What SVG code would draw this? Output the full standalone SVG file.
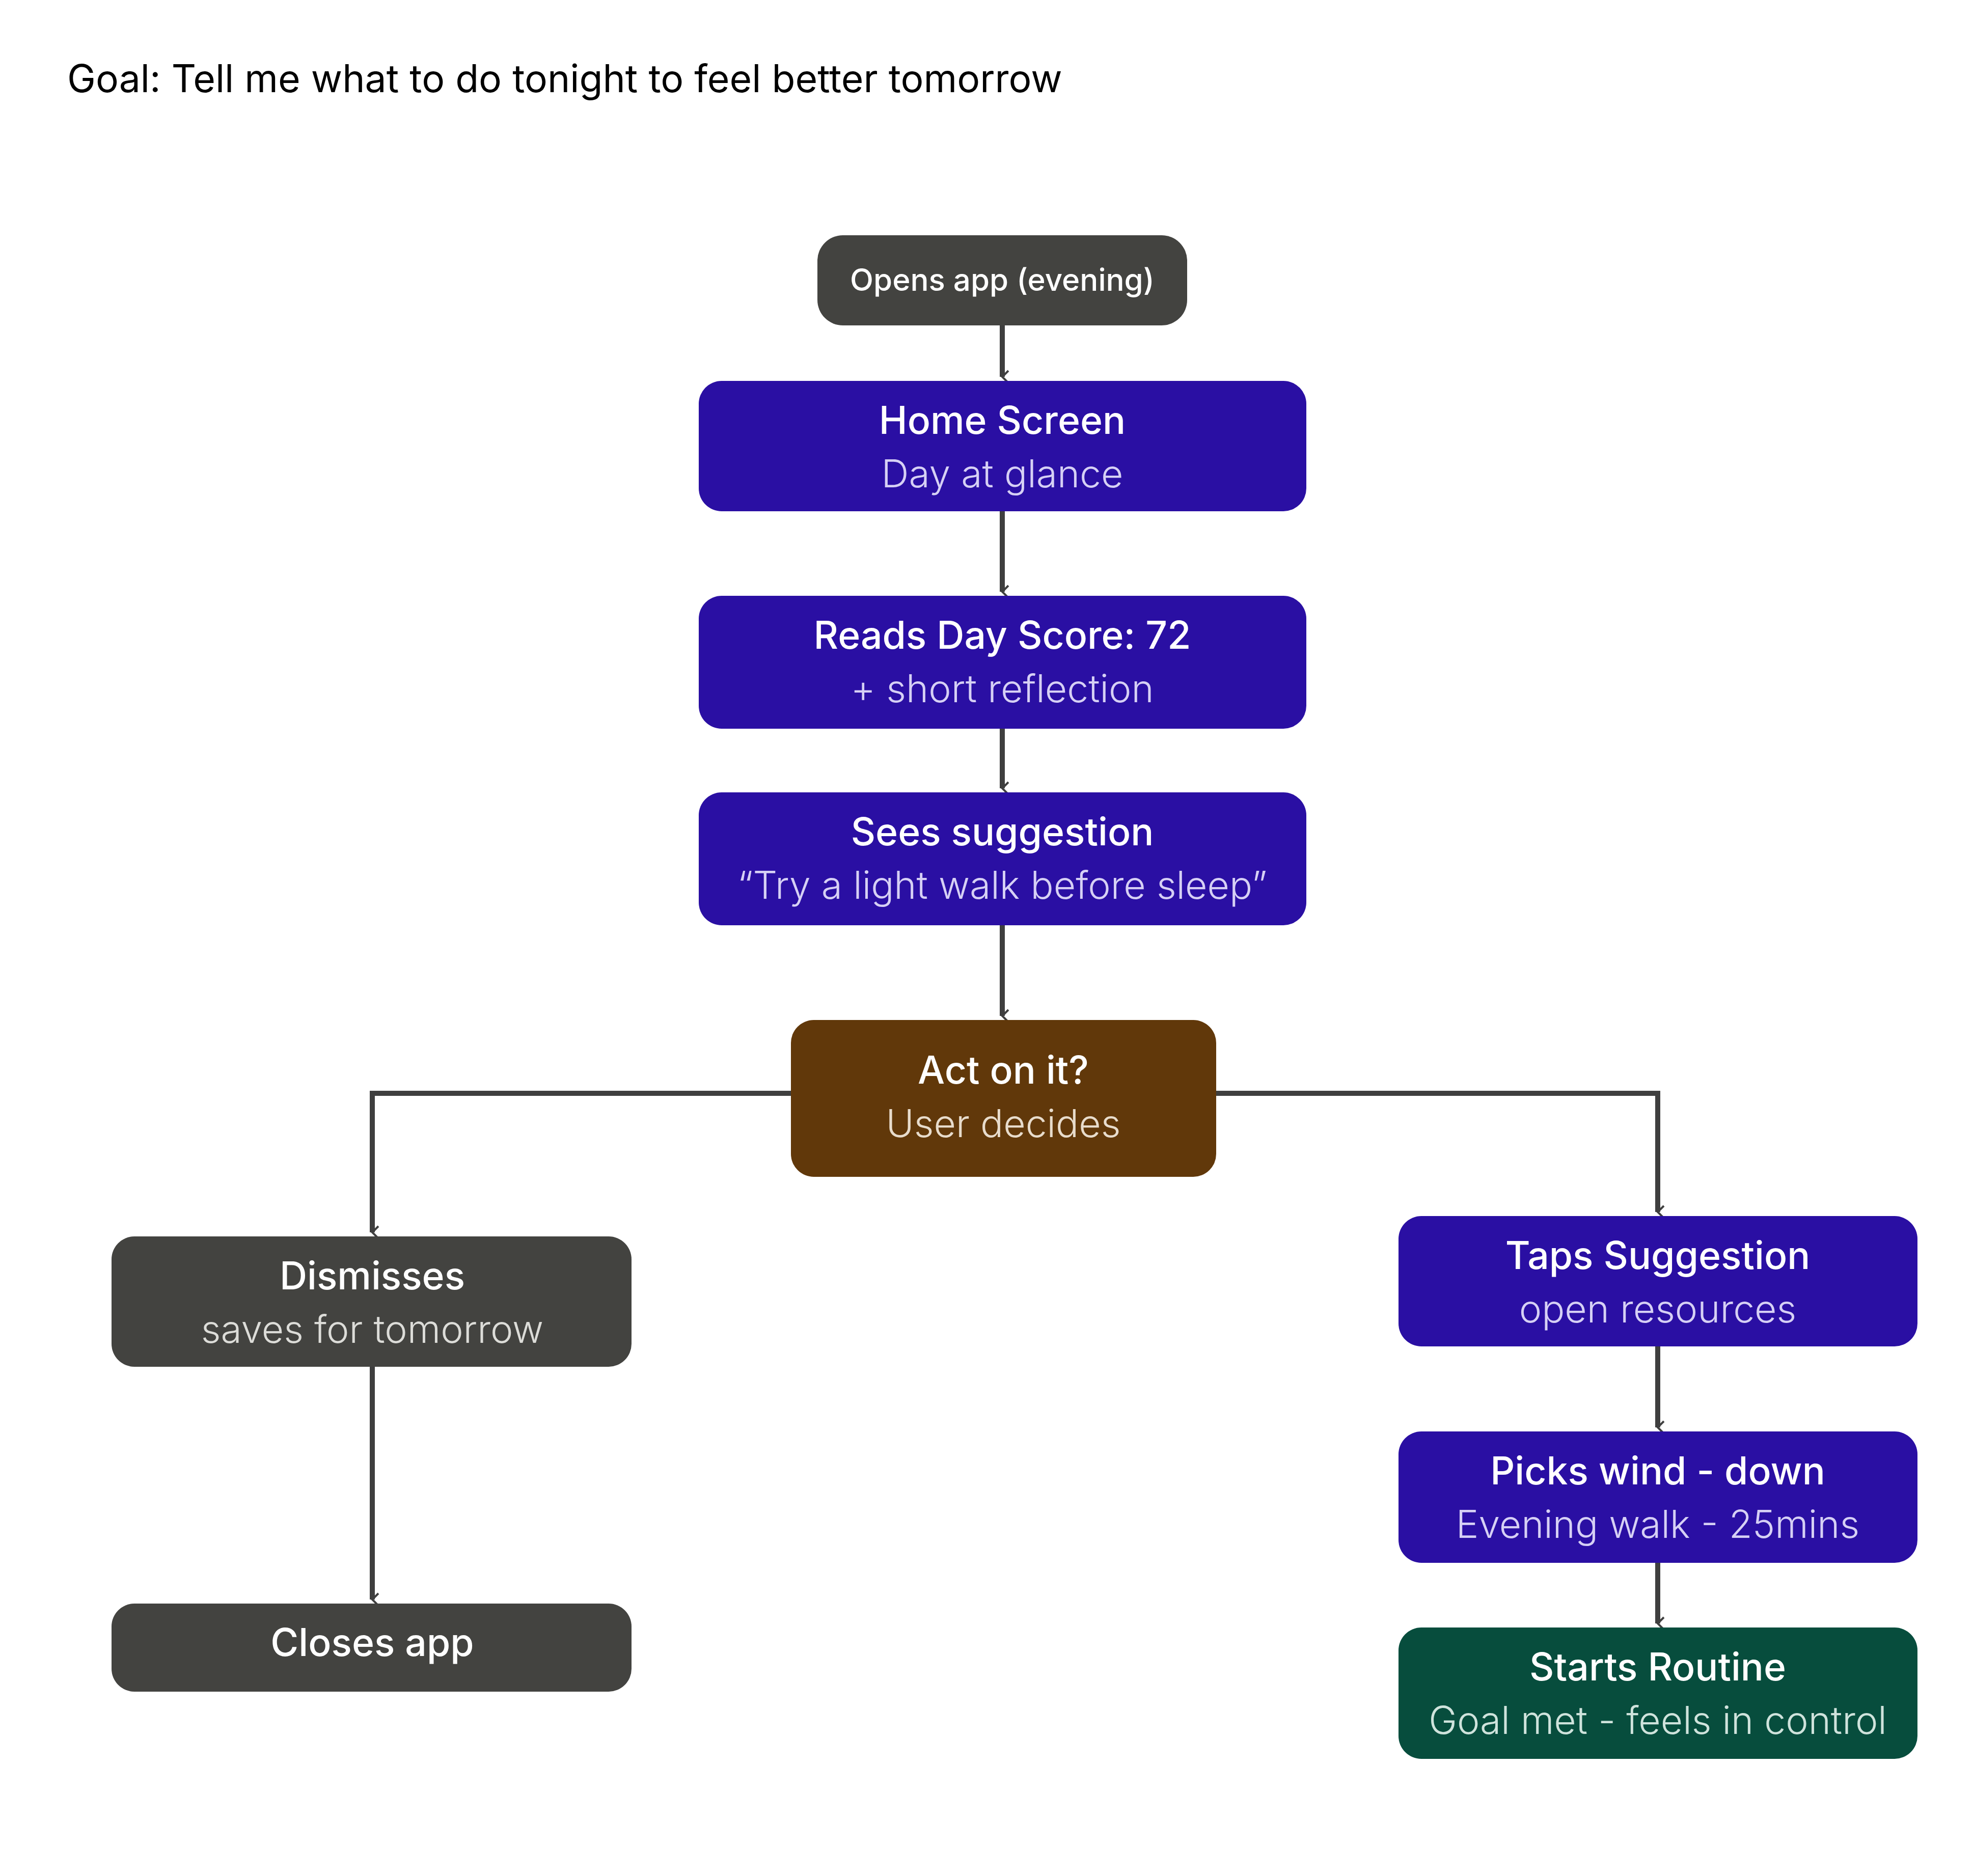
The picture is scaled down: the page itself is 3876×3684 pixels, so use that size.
<svg xmlns="http://www.w3.org/2000/svg" width="3876" height="3684" viewBox="0 0 3876 3684">
<style>
.t{font-family:Inter,"Liberation Sans",sans-serif;fill:#fff;font-size:75px;font-weight:500;text-anchor:middle}
.s{font-family:Inter,"Liberation Sans",sans-serif;fill:#d6d0f5;font-size:75px;font-weight:300;text-anchor:middle}
.c{fill:none;stroke:#3f3f3f;stroke-width:10}
</style>
<defs><marker id="a" viewBox="0 0 20 20" refX="10" refY="18" markerWidth="8" markerHeight="8" markerUnits="userSpaceOnUse" orient="auto-start-reverse" overflow="visible"><path d="M-30 -22 L0 8 L30 -22" fill="none" stroke="#3f3f3f" stroke-width="10" transform="translate(10,10)"/></marker></defs>
<rect width="3876" height="3684" fill="#fff"/>
<text x="132" y="181" font-family="Inter,'Liberation Sans',sans-serif" font-size="75" fill="#000">Goal: Tell me what to do tonight to feel better tomorrow</text>
<g id="connectors">
<path class="c" d="M1968 639V740" marker-end="url(#a)"/>
<path class="c" d="M1968 1004V1162" marker-end="url(#a)"/>
<path class="c" d="M1968 1431V1548" marker-end="url(#a)"/>
<path class="c" d="M1968 1817V1995" marker-end="url(#a)"/>
<path class="c" d="M1553 2147H731V2420" marker-end="url(#a)"/>
<path class="c" d="M2388 2147H3255V2380" marker-end="url(#a)"/>
<path class="c" d="M731 2684V3141" marker-end="url(#a)"/>
<path class="c" d="M3255 2644V2803" marker-end="url(#a)"/>
<path class="c" d="M3255 3069V3188" marker-end="url(#a)"/>
</g>
<g id="opens"><rect x="1605" y="462" width="726" height="177" rx="50" fill="#434340"/><text class="t" x="1968" y="571" font-size="60" style="font-size:60px">Opens app (evening)</text></g>
<g id="home"><rect x="1372" y="748" width="1193" height="256" rx="45" fill="#2a0fa3"/><text class="t" x="1968" y="852">Home Screen</text><text class="s" x="1968" y="957">Day at glance</text></g>
<g id="reads"><rect x="1372" y="1170" width="1193" height="261" rx="45" fill="#2a0fa3"/><text class="t" x="1968" y="1274">Reads Day Score: 72</text><text class="s" x="1968" y="1379">+ short reflection</text></g>
<g id="sees"><rect x="1372" y="1556" width="1193" height="261" rx="45" fill="#2a0fa3"/><text class="t" x="1968" y="1660">Sees suggestion</text><text class="s" x="1968" y="1765">“Try a light walk before sleep”</text></g>
<g id="act"><rect x="1553" y="2003" width="835" height="308" rx="45" fill="#61380a"/><text class="t" x="1970" y="2128">Act on it?</text><text class="s" x="1970" y="2233" style="fill:#e8dccc">User decides</text></g>
<g id="dismiss"><rect x="219" y="2428" width="1021" height="256" rx="45" fill="#434340"/><text class="t" x="731" y="2532">Dismisses</text><text class="s" x="731" y="2637" style="fill:#dcdcd8">saves for tomorrow</text></g>
<g id="closes"><rect x="219" y="3149" width="1021" height="173" rx="45" fill="#434340"/><text class="t" x="731" y="3252">Closes app</text></g>
<g id="taps"><rect x="2746" y="2388" width="1019" height="256" rx="45" fill="#2a0fa3"/><text class="t" x="3255" y="2492">Taps Suggestion</text><text class="s" x="3255" y="2597">open resources</text></g>
<g id="picks"><rect x="2746" y="2811" width="1019" height="258" rx="45" fill="#2a0fa3"/><text class="t" x="3255" y="2915">Picks wind - down</text><text class="s" x="3255" y="3020">Evening walk - 25mins</text></g>
<g id="starts"><rect x="2746" y="3196" width="1019" height="258" rx="45" fill="#074d3d"/><text class="t" x="3255" y="3300">Starts Routine</text><text class="s" x="3255" y="3405" style="fill:#cfe3dc">Goal met - feels in control</text></g>
</svg>
